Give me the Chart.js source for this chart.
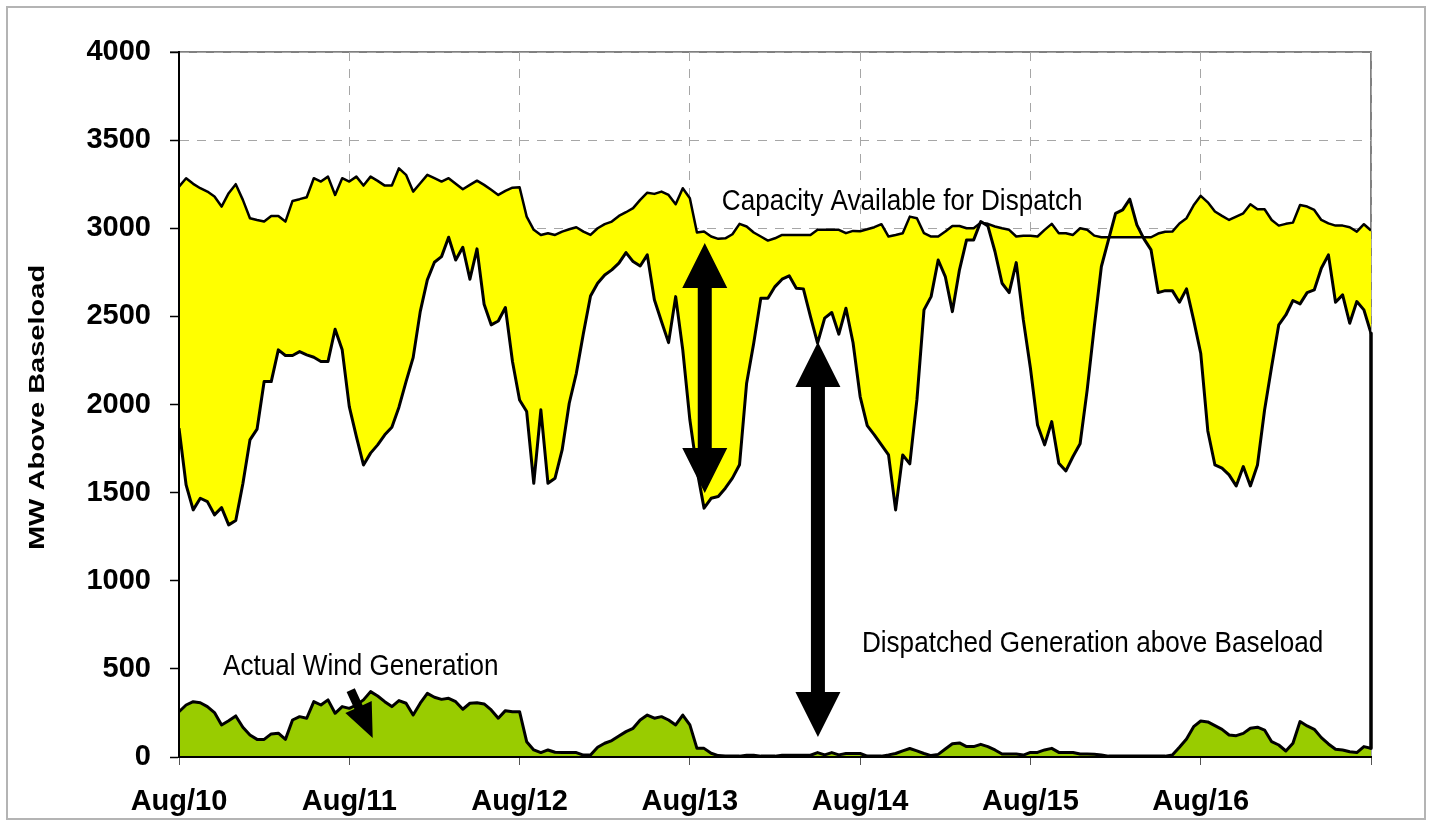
<!DOCTYPE html>
<html>
<head>
<meta charset="utf-8">
<script src="https://cdn.jsdelivr.net/npm/chart.js@4.4.0/dist/chart.umd.min.js"></script>
<style>
  html, body { margin: 0; padding: 0; background: #fff; }
  canvas { display: block; }
</style>
</head>
<body>
<canvas id="chart" width="1429" height="825"></canvas>
<script>
// one value per hour, Aug/10 00:00 .. Aug/17 00:00
const dayLabels = ['Aug/10', 'Aug/11', 'Aug/12', 'Aug/13', 'Aug/14', 'Aug/15', 'Aug/16', ''];

const capacity = [
    3236, 3284, 3252, 3227, 3208, 3180, 3123, 3199, 3250, 3161, 3057, 3047,
    3038, 3070, 3070, 3038, 3155, 3165, 3176, 3284, 3265, 3293, 3189, 3284,
    3265, 3293, 3242, 3293, 3269, 3242, 3242, 3340, 3303, 3208, 3255, 3303,
    3284, 3265, 3284, 3252, 3221, 3246, 3270, 3246, 3218, 3189, 3212, 3230,
    3233, 3066, 2991, 2962, 2972, 2962, 2981, 2994, 3006, 2981, 2962, 3000,
    3023, 3038, 3070, 3091, 3114, 3161, 3202, 3195, 3208, 3189, 3136, 3227,
    3170, 2976, 2981, 2953, 2940, 2943, 2966, 3025, 3010, 2976, 2953, 2930,
    2943, 2962, 2962, 2962, 2962, 2962, 2991, 2991, 2991, 2991, 2972, 2985,
    2983, 2994, 3006, 3023, 2953, 2962, 2972, 3066, 3057, 2972, 2953, 2953,
    2981, 3013, 3013, 3000, 3000, 3032, 3025, 3010, 3000, 2991, 2953, 2958,
    2958, 2953, 2991, 3025, 2972, 2972, 2962, 3000, 2991, 2958, 2949, 2949,
    2949, 2949, 2949, 2949, 2949, 2949, 2970, 2980, 2981, 3027, 3057, 3130,
    3184, 3147, 3095, 3070, 3047, 3066, 3085, 3136, 3108, 3108, 3047, 3015,
    3025, 3032, 3132, 3123, 3104, 3047, 3028, 3015, 3015, 3006, 2981, 3023,
    2987
];

const dispatched = [
    1865, 1544, 1402, 1468, 1449, 1374, 1415, 1317, 1342, 1550, 1799, 1860,
    2130, 2130, 2310, 2278, 2278, 2300, 2282, 2268, 2244, 2244, 2427, 2310,
    1988, 1818, 1657, 1724, 1771, 1828, 1871, 1985, 2130, 2266, 2527, 2707,
    2807, 2839, 2949, 2820, 2892, 2711, 2883, 2569, 2452, 2474, 2550, 2244,
    2026, 1960, 1553, 1970, 1553, 1582, 1742, 2007, 2177, 2404, 2616, 2688,
    2735, 2764, 2802, 2862, 2811, 2786, 2849, 2594, 2471, 2351, 2612, 2310,
    1913, 1629, 1412, 1468, 1478, 1525, 1582, 1658, 2121, 2348, 2603, 2603,
    2669, 2711, 2730, 2660, 2656, 2499, 2348, 2490, 2522, 2399, 2546, 2350,
    2045, 1880, 1828, 1771, 1714, 1402, 1714, 1663, 2026, 2537, 2612, 2820,
    2726, 2527, 2764, 2934, 2934, 3038, 3013, 2868, 2688, 2635, 2805, 2480,
    2206, 1884, 1771, 1903, 1667, 1623, 1705, 1777, 2083, 2442, 2783, 2934,
    3085, 3104, 3165, 3019, 2940, 2877, 2635, 2646, 2646, 2580, 2656, 2480,
    2291, 1850, 1657, 1639, 1601, 1538, 1648, 1538, 1657, 1969, 2215, 2452,
    2508, 2590, 2571, 2635, 2650, 2773, 2849, 2580, 2622, 2461, 2584, 2537,
    2404
];

const wind = [
    257, 295, 314, 308, 286, 252, 182, 206, 233, 169, 125, 100,
    100, 131, 135, 100, 210, 229, 220, 314, 295, 324, 248, 286,
    276, 295, 324, 371, 346, 314, 286, 320, 305, 238, 305, 361,
    339, 327, 333, 314, 271, 305, 308, 301, 267, 220, 263, 257,
    257, 87, 40, 25, 40, 27, 25, 25, 25, 11, 11, 55,
    78, 93, 119, 144, 163, 210, 238, 220, 229, 210, 182, 238,
    182, 49, 49, 21, 8, 5, 5, 5, 10, 10, 5, 5,
    5, 10, 10, 10, 10, 10, 25, 12, 25, 12, 20, 20,
    20, 5, 5, 5, 12, 20, 35, 48, 35, 20, 8, 15,
    45, 75, 80, 59, 59, 72, 59, 40, 17, 17, 17, 11,
    26, 26, 40, 49, 26, 26, 26, 17, 17, 15, 11, 5,
    5, 5, 5, 5, 5, 5, 5, 5, 11, 55, 102, 172,
    204, 199, 178, 157, 125, 121, 134, 163, 169, 153, 87, 68,
    34, 78, 201, 176, 157, 110, 74, 44, 40, 30, 25, 59,
    49
];

const hours = capacity.map((v, i) => i);
const last = hours.length - 1;
const toPoints = arr => arr.map((v, i) => ({ x: hours[i], y: v }));

// annotations, placed in data units (hour, MW)
const arrows = [
    { from: [74.1, 2916], to: [74.1, 1498], both: true, shaft: 14, headW: 45, headL: 45 },
    { from: [90.05, 2355], to: [90.05, 113], both: true, shaft: 14, headW: 45, headL: 45 },
    { from: [24.2, 380], to: [27.3, 108], both: false, shaft: 9, headW: 29, headL: 34 }
];
const notes = [
    { text: 'Capacity Available for Dispatch', x: 76.5, y: 3104 },
    { text: 'Actual Wind Generation', x: 6.2, y: 465 },
    { text: 'Dispatched Generation above Baseload', x: 96.25, y: 596 }
];

const FONT = "'Liberation Sans', Arial, sans-serif";

function drawArrow(ctx, p1, p2, a) {
    const dx = p2.x - p1.x, dy = p2.y - p1.y;
    const len = Math.hypot(dx, dy);
    const ux = dx / len, uy = dy / len;
    const nx = -uy, ny = ux;
    const at = (p, along, side) => [p.x + ux * along + nx * side, p.y + uy * along + ny * side];
    const pts = [];
    if (a.both) {
        pts.push([p1.x, p1.y]);
        pts.push(at(p1, a.headL, a.headW / 2));
        pts.push(at(p1, a.headL, a.shaft / 2));
    } else {
        pts.push(at(p1, 0, a.shaft / 2));
    }
    pts.push(at(p2, -a.headL, a.shaft / 2));
    pts.push(at(p2, -a.headL, a.headW / 2));
    pts.push([p2.x, p2.y]);
    pts.push(at(p2, -a.headL, -a.headW / 2));
    pts.push(at(p2, -a.headL, -a.shaft / 2));
    if (a.both) {
        pts.push(at(p1, a.headL, -a.shaft / 2));
        pts.push(at(p1, a.headL, -a.headW / 2));
    } else {
        pts.push(at(p1, 0, -a.shaft / 2));
    }
    ctx.beginPath();
    ctx.moveTo(pts[0][0], pts[0][1]);
    for (let i = 1; i < pts.length; i++) ctx.lineTo(pts[i][0], pts[i][1]);
    ctx.closePath();
    ctx.fill();
}

const decorations = {
    id: 'decorations',
    beforeDraw(chart) {
        // grey plot-area frame (top and right)
        const { ctx, chartArea: ca } = chart;
        ctx.save();
        ctx.strokeStyle = '#808080';
        ctx.lineWidth = 2;
        ctx.beginPath();
        ctx.moveTo(ca.left - 9, ca.top);
        ctx.lineTo(ca.right, ca.top);
        ctx.lineTo(ca.right, ca.bottom);
        ctx.stroke();
        ctx.restore();
    },
    afterDatasetsDraw(chart) {
        const { ctx, scales: { x, y } } = chart;
        ctx.save();
        ctx.fillStyle = '#000';
        arrows.forEach(a => {
            const p1 = { x: x.getPixelForValue(a.from[0]), y: y.getPixelForValue(a.from[1]) };
            const p2 = { x: x.getPixelForValue(a.to[0]), y: y.getPixelForValue(a.to[1]) };
            drawArrow(ctx, p1, p2, a);
        });
        ctx.font = '29px ' + FONT;
        ctx.textBaseline = 'alphabetic';
        ctx.textAlign = 'left';
        notes.forEach(n => {
            ctx.save();
            ctx.translate(x.getPixelForValue(n.x), y.getPixelForValue(n.y));
            ctx.scale(0.9, 1);
            ctx.fillText(n.text, 0, 0);
            ctx.restore();
        });
        ctx.restore();
    },
    afterDraw(chart) {
        const { ctx, chartArea: ca } = chart;
        ctx.save();
        // y axis title
        ctx.translate(44, (ca.top + ca.bottom) / 2 + 3);
        ctx.rotate(-Math.PI / 2);
        ctx.scale(1, 0.78);
        ctx.font = 'bold 29px ' + FONT;
        ctx.textAlign = 'center';
        ctx.textBaseline = 'alphabetic';
        ctx.fillStyle = '#000';
        ctx.fillText('MW Above Baseload', 0, 0);
        ctx.restore();
        // outer frame
        ctx.save();
        ctx.strokeStyle = '#b4b4b4';
        ctx.lineWidth = 2;
        ctx.strokeRect(7, 7, 1418, 812);
        ctx.restore();
    }
};

const ctx = document.getElementById('chart').getContext('2d');
new Chart(ctx, {
    type: 'line',
    data: {
        datasets: [{
            label: 'Capacity Available for Dispatch',
            data: toPoints(capacity),
            borderColor: '#000',
            borderWidth: 2.5,
            backgroundColor: '#ffff00',
            fill: 1,
            order: 2
        }, {
            label: 'Dispatched Generation above Baseload',
            data: toPoints(dispatched),
            borderColor: '#000',
            borderWidth: 3,
            backgroundColor: '#ffffff',
            fill: 'origin',
            order: 3
        }, {
            label: 'Actual Wind Generation',
            data: toPoints(wind),
            borderColor: '#000',
            borderWidth: 3,
            backgroundColor: '#99cc00',
            fill: 'origin',
            order: 1
        }, {
            label: 'edge',
            data: [{ x: hours[last], y: dispatched[last] }, { x: hours[last], y: wind[last] }],
            borderColor: '#000',
            borderWidth: 3.5,
            fill: false,
            clip: false,
            order: 0
        }]
    },
    options: {
        responsive: false,
        animation: false,
        devicePixelRatio: 1,
        layout: { padding: { left: 0, top: 52, right: 58, bottom: 0 } },
        elements: {
            point: { radius: 0, hoverRadius: 0 },
            line: { tension: 0, borderJoinStyle: 'round' }
        },
        plugins: {
            legend: { display: false },
            tooltip: { enabled: false },
            filler: { drawTime: 'beforeDatasetsDraw' }
        },
        scales: {
            x: {
                type: 'linear',
                min: 0,
                max: 168,
                afterFit: s => { s.height = 68; },
                afterBuildTicks: s => {
                    s.ticks = dayLabels.map((l, i) => ({ value: i * 24 }));
                },
                ticks: {
                    autoSkip: false,
                    maxRotation: 0,
                    padding: 20,
                    color: '#000',
                    font: { family: FONT, size: 29, weight: 'bold' },
                    callback: v => dayLabels[Math.round(v / 24)]
                },
                grid: {
                    color: '#a6a6a6',
                    lineWidth: 1,
                    tickLength: 8,
                    tickColor: '#555',
                    tickWidth: 1,
                    tickBorderDash: []
                },
                border: { color: '#000', width: 2, dash: [9, 8], z: 1 }
            },
            y: {
                min: 0,
                max: 4000,
                afterFit: s => { s.width = 179; },
                ticks: {
                    stepSize: 500,
                    padding: 19,
                    color: '#000',
                    font: { family: FONT, size: 29, weight: 'bold' },
                    callback: v => String(v)
                },
                grid: {
                    color: '#a6a6a6',
                    lineWidth: 1,
                    tickLength: 9,
                    tickColor: '#000',
                    tickWidth: 1.5,
                    tickBorderDash: []
                },
                border: { color: '#000', width: 2, dash: [9, 8], z: 1 }
            }
        }
    },
    plugins: [decorations]
});
</script>
</body>
</html>
